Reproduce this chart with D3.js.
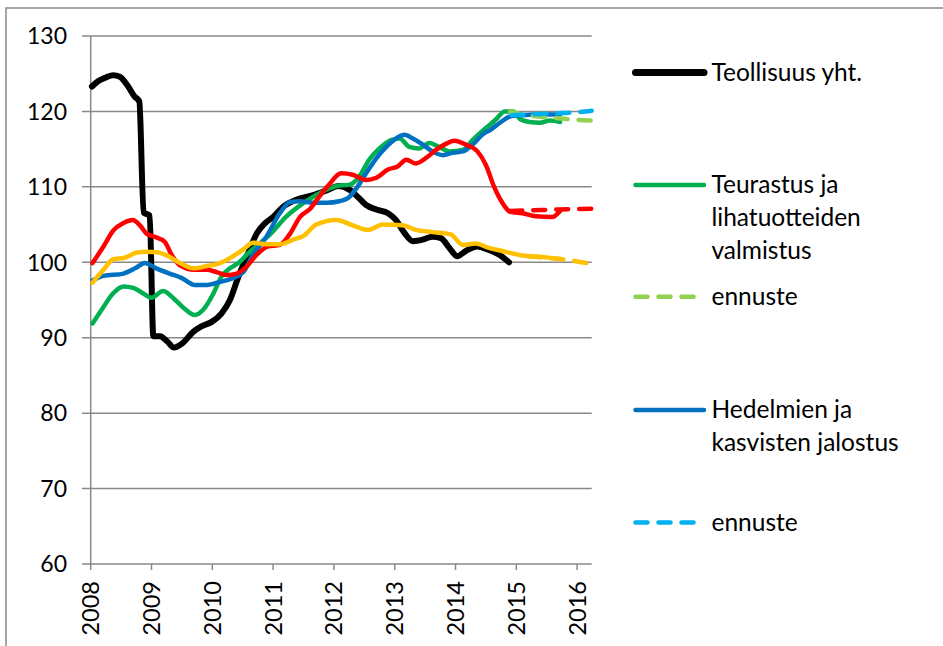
<!DOCTYPE html>
<html>
<head>
<meta charset="utf-8">
<title>Teollisuus - indeksit</title>
<script src="https://d3js.org/d3.v7.min.js"></script>
<style>
  body { margin: 0; background: #fff; }
  svg text { font-family: Lato, "Open Sans", sans-serif; fill: #000; }
</style>
</head>
<body>
<svg id="chart" width="943" height="646"></svg>
<script>
// values, [year fraction, index]
const years = [2008, 2009, 2010, 2011, 2012, 2013, 2014, 2015, 2016];
const yTicks = [60, 70, 80, 90, 100, 110, 120, 130];

const teollisuus = [[2008.02,123.3],[2008.12,124.0],[2008.25,124.5],[2008.37,124.8],[2008.48,124.6],[2008.6,123.5],
  [2008.72,122.0],[2008.8,121.3],[2008.87,106.6],[2008.97,106.2],[2009.03,90.2],[2009.14,90.2],[2009.26,89.5],
  [2009.37,88.7],[2009.5,89.2],[2009.69,90.8],[2009.82,91.5],[2009.99,92.1],[2010.15,93.2],[2010.29,95.0],
  [2010.43,98.1],[2010.59,101.2],[2010.73,103.8],[2010.87,105.2],[2011.0,106.0],[2011.17,107.4],[2011.38,108.3],
  [2011.66,108.9],[2011.9,109.6],[2012.07,110.1],[2012.26,109.6],[2012.39,108.7],[2012.53,107.6],[2012.7,107.0],
  [2012.89,106.5],[2013.02,105.6],[2013.16,103.9],[2013.3,102.8],[2013.46,103.0],[2013.62,103.4],[2013.76,103.2],
  [2013.9,101.9],[2014.03,100.8],[2014.17,101.5],[2014.36,102.1],[2014.53,101.7],[2014.72,101.0],[2014.88,100.0]];

const teurastus = [[2008.03,91.9],[2008.18,93.7],[2008.37,95.9],[2008.54,96.8],[2008.7,96.6],[2008.86,95.9],
  [2009.0,95.3],[2009.19,96.2],[2009.39,95.0],[2009.55,93.8],[2009.71,93.0],[2009.85,93.7],[2010.02,95.9],
  [2010.15,98.1],[2010.29,99.2],[2010.43,99.9],[2010.59,101.2],[2010.78,102.5],[2010.95,103.7],[2011.22,106.1],
  [2011.49,107.8],[2011.77,109.2],[2012.04,110.1],[2012.26,110.3],[2012.42,111.4],[2012.58,113.6],[2012.75,115.1],
  [2012.94,116.2],[2013.08,116.4],[2013.24,115.3],[2013.4,115.1],[2013.57,115.8],[2013.73,115.3],[2013.9,114.7],
  [2014.12,114.9],[2014.28,116.2],[2014.5,117.8],[2014.66,118.9],[2014.81,120.0],[2014.95,120.0],[2015.06,119.0],
  [2015.22,118.6],[2015.39,118.5],[2015.55,118.8],[2015.72,118.6]];
const teurastusEnnuste = [[2014.9,120.0],[2015.1,119.6],[2015.4,119.3],[2015.7,119.1],[2015.95,118.9],[2016.24,118.8]];

const hedelmat = [[2008.03,97.6],[2008.21,98.2],[2008.54,98.5],[2008.73,99.2],[2008.89,99.9],[2009.08,99.2],
  [2009.3,98.5],[2009.5,97.9],[2009.71,97.0],[2009.91,97.0],[2010.13,97.4],[2010.34,97.9],[2010.51,98.7],
  [2010.67,101.0],[2010.89,103.4],[2011.11,106.5],[2011.28,108.0],[2011.44,108.1],[2011.66,107.9],[2011.88,107.9],
  [2012.09,108.1],[2012.23,108.5],[2012.37,109.8],[2012.53,111.8],[2012.7,113.8],[2012.86,115.3],[2013.02,116.4],
  [2013.16,116.9],[2013.3,116.4],[2013.46,115.6],[2013.62,114.7],[2013.79,114.2],[2013.95,114.5],[2014.12,114.7],
  [2014.28,115.6],[2014.44,116.9],[2014.58,117.6],[2014.73,118.5],[2014.89,119.3],[2015.06,119.5],[2015.39,119.6],
  [2015.72,119.6]];
const hedelmatEnnuste = [[2014.92,119.5],[2015.2,119.6],[2015.5,119.7],[2015.8,119.8],[2016.0,119.9],[2016.24,120.1]];

const punainen = [[2008.03,99.9],[2008.21,102.1],[2008.37,104.2],[2008.54,105.2],[2008.69,105.6],[2008.81,104.9],
  [2008.92,103.8],[2009.08,103.3],[2009.22,102.7],[2009.33,101.0],[2009.47,99.6],[2009.71,99.0],[2009.91,99.0],
  [2010.07,98.7],[2010.24,98.3],[2010.4,98.5],[2010.56,99.4],[2010.73,101.0],[2010.92,102.1],[2011.11,102.3],
  [2011.28,103.8],[2011.44,106.0],[2011.61,107.1],[2011.75,108.6],[2011.9,110.1],[2012.12,111.8],[2012.31,111.6],
  [2012.53,110.9],[2012.7,111.2],[2012.89,112.3],[2013.05,112.7],[2013.19,113.6],[2013.35,113.1],[2013.51,113.8],
  [2013.68,114.9],[2013.84,115.7],[2013.98,116.1],[2014.17,115.6],[2014.36,114.7],[2014.5,112.9],[2014.63,110.1],
  [2014.77,107.9],[2014.9,106.7],[2015.1,106.5],[2015.32,106.1],[2015.59,106.0],[2015.72,106.8]];
const punainenEnnuste = [[2014.9,106.8],[2015.3,106.9],[2015.7,107.0],[2016.24,107.1]];

const keltainen = [[2008.03,97.3],[2008.21,99.0],[2008.37,100.4],[2008.56,100.6],[2008.76,101.3],[2008.92,101.4],
  [2009.11,101.3],[2009.28,100.8],[2009.47,99.9],[2009.69,99.2],[2009.91,99.5],[2010.13,99.9],[2010.34,100.8],
  [2010.51,101.7],[2010.67,102.6],[2010.89,102.4],[2011.11,102.4],[2011.33,103.0],[2011.5,103.5],[2011.71,105.0],
  [2012.04,105.6],[2012.31,104.9],[2012.56,104.3],[2012.81,105.0],[2013.13,104.9],[2013.35,104.3],[2013.62,104.0],
  [2013.92,103.7],[2014.12,102.3],[2014.33,102.5],[2014.55,101.9],[2014.77,101.5],[2015.1,100.9],[2015.43,100.7],
  [2015.75,100.4]];
const keltainenEnnuste = [[2015.2,100.8],[2015.5,100.6],[2015.75,100.4],[2016.0,100.1],[2016.24,99.8]];

const legendNames = [["Teollisuus yht."], ["Teurastus ja", "lihatuotteiden", "valmistus"], ["ennuste"],
  ["Hedelmien ja", "kasvisten jalostus"], ["ennuste"]];

const svg = d3.select("#chart");
const grey = "#898989";

// outer frame (picture is cropped, only top and left edge show)
svg.append("path").attr("d", "M6,646V8H943").attr("fill", "none").attr("stroke", grey).attr("stroke-width", 1.5);

const x = d3.scaleLinear().domain([2008, 2016.24]).range([90.7, 591.7]);
const y = d3.scaleLinear().domain([60, 130]).range([564, 36]);

// gridlines with the small tick on the left
svg.append("g").selectAll("line").data(yTicks).join("line")
  .attr("x1", 82).attr("x2", x(2016.24))
  .attr("y1", d => y(d)).attr("y2", d => y(d))
  .attr("stroke", grey).attr("stroke-width", 1.5);

svg.append("line").attr("x1", x(2008)).attr("x2", x(2008)).attr("y1", y(130)).attr("y2", y(60))
  .attr("stroke", grey).attr("stroke-width", 1.5);

svg.append("g").selectAll("text").data(yTicks).join("text")
  .attr("x", 67).attr("y", d => y(d)).attr("dy", "0.36em")
  .attr("text-anchor", "end").style("font-size", "23px")
  .text(d => d);

// x axis ticks and rotated year labels
svg.append("g").selectAll("line").data(years).join("line")
  .attr("x1", d => x(d)).attr("x2", d => x(d)).attr("y1", y(60)).attr("y2", y(60) + 6)
  .attr("stroke", grey).attr("stroke-width", 1.5);

svg.append("g").selectAll("text").data(years).join("text")
  .attr("transform", d => "translate(" + x(d) + "," + 581 + ") rotate(-90)")
  .attr("dy", "0.36em").attr("text-anchor", "end").style("font-size", "23.5px")
  .text(d => d);

const line = d3.line().x(d => x(d[0])).y(d => y(d[1])).curve(d3.curveMonotoneX);

function draw(data, color, width, dashed) {
  svg.append("path").datum(data)
    .attr("d", line)
    .attr("fill", "none")
    .attr("stroke", color)
    .attr("stroke-width", width)
    .attr("stroke-linejoin", "round")
    .attr("stroke-linecap", "round")
    .attr("stroke-dasharray", dashed ? "12,11" : null);
}

draw(teollisuus, "#000000", 6);
draw(teurastus, "#00B050", 4.5);
draw(hedelmat, "#0070C0", 4.5);
draw(punainen, "#FF0000", 4.5);
draw(keltainen, "#FFC000", 4.5);
draw(teurastusEnnuste, "#92D050", 4.5, true);
draw(hedelmatEnnuste, "#00B0F0", 4.5, true);
draw(punainenEnnuste, "#FF0000", 4.5, true);
draw(keltainenEnnuste, "#FFC000", 4.5, true);

// legend
const legendKeys = [
  {y: 72.5, color: "#000000", width: 7, dashed: false, base: 80.5},
  {y: 185, color: "#00B050", width: 4.5, dashed: false, base: 192.6},
  {y: 296.7, color: "#92D050", width: 4.5, dashed: true, base: 305},
  {y: 410, color: "#0070C0", width: 4.5, dashed: false, base: 418.4},
  {y: 522.5, color: "#00B0F0", width: 4.5, dashed: true, base: 531}
];

const leg = svg.append("g").selectAll("g").data(legendKeys).join("g");
leg.append("line")
  .attr("x1", 635.5).attr("y1", d => d.y).attr("y2", d => d.y)
  .attr("x2", d => d.dashed ? 694.5 : 704)
  .attr("stroke", d => d.color).attr("stroke-width", d => d.width)
  .attr("stroke-linecap", "round")
  .attr("stroke-dasharray", d => d.dashed ? "12,11" : null);

leg.each(function(d, i) {
  const t = d3.select(this).append("text").attr("x", 711.5).attr("y", d.base).style("font-size", "24.5px");
  legendNames[i].forEach((s, j) => {
    t.append("tspan").attr("x", 711.5).attr("y", d.base + j * 33).text(s);
  });
});
</script>
</body>
</html>
